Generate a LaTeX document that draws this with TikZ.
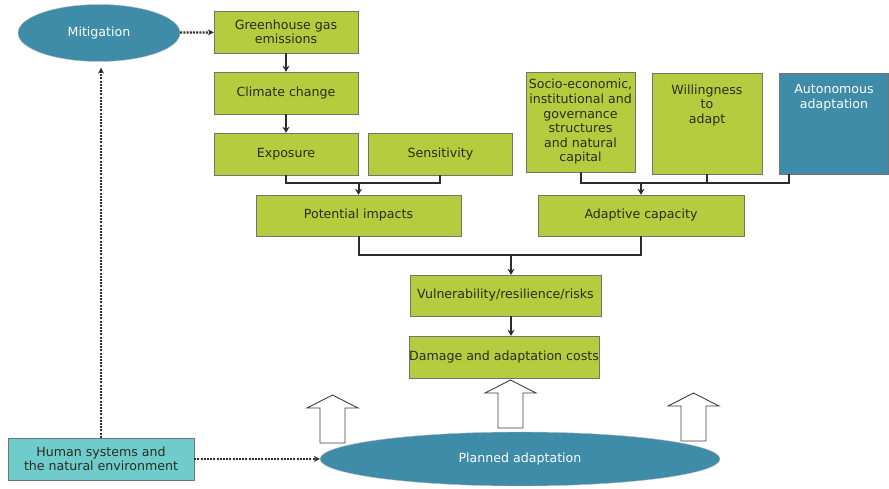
\documentclass[tikz,border=0pt]{standalone}
\usepackage{fontspec}
\setmainfont{DejaVu Sans}
\usetikzlibrary{shapes.geometric,positioning,arrows.meta}
\definecolor{boxgreen}{RGB}{181,204,62}
\definecolor{deepteal}{RGB}{62,140,168}
\definecolor{paleteal}{RGB}{112,204,204}
\definecolor{edgegray}{RGB}{115,115,115}
\definecolor{textdark}{RGB}{40,45,30}
\definecolor{linedark}{RGB}{45,45,45}
\newcommand{\toptext}[1]{\parbox[c][78pt][t]{106pt}{\centering #1}}

\begin{document}
\begin{tikzpicture}[x=1pt,y=-1pt,node distance=61pt,font=\fontsize{12.6}{14.6}\selectfont]
    \tikzstyle{block} = [rectangle, draw=edgegray, fill=boxgreen, text=textdark, align=center, minimum height=42pt, inner sep=0pt]
    \tikzstyle{tallblock} = [block, minimum width=110pt, minimum height=101pt]
    \tikzstyle{oval} = [ellipse, draw=edgegray!50, fill=deepteal, text=white, inner sep=0pt]
    \tikzstyle{elbow} = [line width=2pt, draw=linedark]
    \tikzstyle{arrow} = [elbow,-{Stealth[length=6pt,width=7pt]}]
    \tikzstyle{dotarrow} = [line width=2.2pt, draw=linedark, dash pattern=on 2pt off 1.2pt, -{Stealth[length=6pt,width=6pt]}]
    \useasboundingbox (0,0) rectangle (889,489);

    \node (mitigation) [oval, minimum width=162pt, minimum height=57pt] at (99,33) {Mitigation};
    \node (ghg) [block, minimum width=144pt] at (286,32) {Greenhouse gas\\ emissions};
    \node (climate) [block, minimum width=144pt, below of=ghg] {Climate change};
    \node (exposure) [block, minimum width=144pt, below of=climate] {Exposure};
    \node (sensitivity) [block, minimum width=144pt, right=10pt of exposure] {Sensitivity};
    \node (impacts) [block, minimum width=205pt, minimum height=41pt] at (358.5,215.5) {Potential impacts};

    \node (socio) [tallblock, minimum width=109pt, minimum height=100pt] at (580.5,122) {Socio-economic,\\ institutional and\\ governance\\ structures\\ and natural\\ capital};
    \node (willing) [tallblock] at (707,123.5) {\toptext{Willingness\\ to\\ adapt}};
    \node (auto) [tallblock, fill=deepteal, text=white, minimum width=109pt] at (834,123.5) {\toptext{Autonomous\\ adaptation}};
    \node (capacity) [block, minimum width=206pt, minimum height=41pt] at (641,215.5) {Adaptive capacity};

    \node (vuln) [block, minimum width=191pt, minimum height=41pt] at (505.5,295.5) {Vulnerability/resilience/risks};
    \node (damage) [block, minimum width=190pt] at (504,357) {Damage and adaptation costs};

    \node (human) [block, fill=paleteal, minimum width=186pt] at (101,459) {Human systems and\\ the natural environment};
    \node (planned) [oval, minimum width=400pt, minimum height=54pt] at (520,459) {Planned adaptation};

    % causal chain
    \draw [arrow] (ghg) -- (climate);
    \draw [arrow] (climate) -- (exposure);
    \draw [elbow] (exposure.south) |- (sensitivity.south |- 0,183) -- (sensitivity.south);
    \draw [arrow] (impacts.north |- 0,183) -- (impacts.north);

    \draw [elbow] (socio.south) |- ([xshift=-45pt]auto.south |- 0,183) -- ([xshift=-45pt]auto.south);
    \draw [elbow] (willing.south) -- (willing.south |- 0,183);
    \draw [arrow] (capacity.north |- 0,183) -- (capacity.north);

    \draw [elbow] (impacts.south) |- (capacity.south |- 0,255) -- (capacity.south);
    \draw [arrow] ([xshift=5.5pt]vuln.north |- 0,255) -- ([xshift=5.5pt]vuln.north);
    \draw [arrow] ([xshift=5.5pt]vuln.south) -- ([xshift=7pt]damage.north);

    % dotted links
    \draw [dotarrow] (mitigation) -- (ghg);
    \draw [dotarrow] (human.north) -- ([yshift=-6pt]human.north |- mitigation.south);
    \draw [dotarrow] (human) -- (planned);

    % hollow arrows from planned adaptation
    \foreach \x/\t in {332.5/395, 510.5/380, 693.5/393}
        \draw [fill=white, draw=black!75, line width=0.9pt] (\x-25.5,\t+13) -- (\x,\t) -- (\x+25.5,\t+13) -- (\x+12.5,\t+13) -- (\x+12.5,\t+48) -- (\x-12.5,\t+48) -- (\x-12.5,\t+13) -- cycle;

\end{tikzpicture}
\end{document}
